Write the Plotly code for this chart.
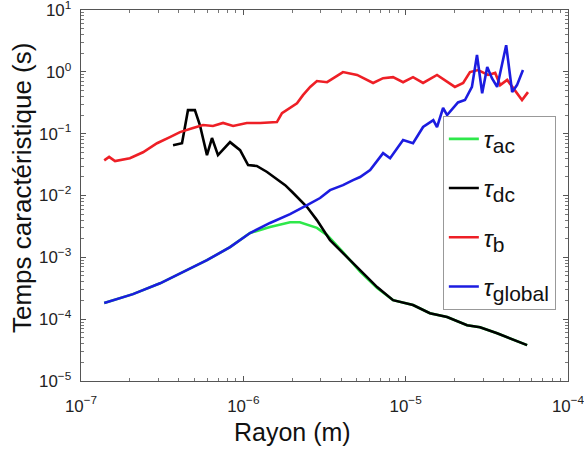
import plotly.graph_objects as go

# tau_b (red)
xb = [1.39e-7, 1.49e-7, 1.62e-7, 2.0e-7, 2.41e-7, 2.94e-7, 3.53e-7, 4.07e-7, 4.9e-7, 5.65e-7,
      6.5e-7, 7.5e-7, 8.65e-7, 1.05e-6, 1.27e-6, 1.61e-6, 1.73e-6, 1.94e-6, 2.14e-6, 2.33e-6,
      2.58e-6, 2.84e-6, 3.28e-6, 4.11e-6, 5.02e-6, 6.3e-6, 7.26e-6, 8.36e-6, 9.64e-6, 1.11e-5,
      1.28e-5, 1.56e-5, 1.80e-5, 2.01e-5, 2.26e-5, 2.49e-5, 2.79e-5, 3.22e-5, 3.56e-5, 3.82e-5,
      4.22e-5, 4.6e-5, 5.21e-5, 5.67e-5]
yb = [0.037, 0.042, 0.036, 0.040, 0.050, 0.070, 0.088, 0.106, 0.123, 0.138,
      0.133, 0.149, 0.133, 0.149, 0.149, 0.154, 0.215, 0.26, 0.31, 0.42,
      0.57, 0.71, 0.68, 0.99, 0.89, 0.66, 0.79, 0.82, 0.68, 0.82,
      0.66, 0.89, 0.68, 0.57, 0.66, 0.99, 1.07, 0.89, 0.96, 0.61,
      0.74, 0.55, 0.35, 0.47]

# tau_dc (black)
xdc = [3.69e-7, 4.19e-7, 4.56e-7, 5.03e-7, 5.4e-7, 5.97e-7, 6.41e-7, 6.98e-7, 8.28e-7, 9.55e-7,
       1.07e-6, 1.21e-6, 1.40e-6, 1.57e-6, 1.81e-6, 2.0e-6, 2.23e-6, 2.47e-6, 2.84e-6, 3.42e-6,
       4.11e-6, 5.24e-6, 6.67e-6, 8.36e-6, 1.11e-5, 1.41e-5, 1.80e-5, 2.39e-5, 2.87e-5, 3.66e-5,
       4.6e-5, 5.6e-5]
ydc = [0.065, 0.070, 0.24, 0.24, 0.138, 0.045, 0.085, 0.045, 0.073, 0.054,
       0.031, 0.030, 0.024, 0.019, 0.0147, 0.0114, 0.0084, 0.0065, 0.0040, 0.0019,
       0.00117, 0.00062, 0.00033, 0.000203, 0.000169, 0.000125, 0.000108, 0.00008, 0.000074, 0.000059,
       0.000047, 0.000038]

# tau_global (blue)
xg = [1.39e-7, 1.67e-7, 2.09e-7, 3.07e-7, 4.5e-7, 5.97e-7, 8.28e-7, 1.10e-6, 1.46e-6, 1.94e-6,
      2.47e-6, 2.97e-6, 3.42e-6, 4.11e-6, 4.74e-6, 5.24e-6, 6.04e-6, 7.26e-6, 8.02e-6, 9.64e-6,
      1.11e-5, 1.28e-5, 1.48e-5, 1.56e-5, 1.70e-5, 1.80e-5, 2.10e-5, 2.32e-5, 2.56e-5, 2.75e-5,
      2.96e-5, 3.18e-5, 3.40e-5, 3.66e-5, 4.16e-5, 4.53e-5, 4.85e-5, 5.28e-5]
yg = [0.000182, 0.000211, 0.000254, 0.00038, 0.00062, 0.00090, 0.00146, 0.00247, 0.0036, 0.0050,
      0.0070, 0.0091, 0.0122, 0.0147, 0.0177, 0.0199, 0.0258, 0.0485, 0.040, 0.079,
      0.070, 0.128, 0.166, 0.128, 0.26, 0.20, 0.32, 0.35, 0.57, 1.87,
      0.45, 1.2, 0.79, 0.57, 2.7, 0.47, 0.61, 1.07]

# tau_ac (green)
xac = [1.39e-7, 1.67e-7, 2.09e-7, 3.07e-7, 4.5e-7, 5.97e-7, 8.28e-7, 1.10e-6, 1.46e-6, 1.94e-6,
       2.23e-6, 2.84e-6, 3.28e-6, 3.78e-6, 4.11e-6, 5.24e-6, 6.67e-6, 8.36e-6, 1.11e-5, 1.41e-5,
       1.80e-5, 2.39e-5, 2.87e-5, 3.66e-5, 4.6e-5, 5.6e-5]
yac = [0.000182, 0.000211, 0.000254, 0.00038, 0.00062, 0.00090, 0.00146, 0.00247, 0.0031, 0.0037,
       0.0037, 0.0030, 0.00229, 0.00157, 0.00121, 0.00059, 0.00032, 0.000203, 0.000169, 0.000125,
       0.000108, 0.00008, 0.000074, 0.000059, 0.000047, 0.000038]

subs = ["ac", "dc", "b", "global"]
colors = ["#2ee84a", "#000000", "#ee1f26", "#1c1ce0"]

# plain-number labels that plotly uses near 10^0, rewritten as powers of ten
label_alias = {"10": "10<sup>1</sup>", "1": "10<sup>0</sup>", "0.1": "10<sup>-1</sup>"}

FONT = "Liberation Sans"

fig = go.Figure()
for i, (x, y, s, c) in enumerate(zip([xac, xdc, xb, xg], [yac, ydc, yb, yg], subs, colors)):
    name = ("<i>τ</i><sub><span style='font-size:21px'>" + s + "</span></sub>")
    fig.add_trace(go.Scatter(x=x, y=y, mode="lines", name=name, legendgroup=str(i),
                             line=dict(color=c, width=2.6)))

axis_common = dict(
    type="log", showgrid=False, zeroline=False, automargin=False,
    showline=True, linecolor="#555555", linewidth=1, mirror="allticks",
    ticks="inside", ticklen=5, tickcolor="#555555",
    tickmode="linear", dtick=1, exponentformat="power", labelalias=label_alias,
    tickfont=dict(size=13.5, color="#222222", family=FONT),
    ticklabeloverflow="allow",
    minor=dict(dtick="D1", ticks="inside", ticklen=3, tickcolor="#777777", showgrid=False),
)

fig.update_xaxes(range=[-7, -4], ticklabelstandoff=10, **axis_common)
fig.update_yaxes(range=[-5, 1], ticklabelstandoff=6, **axis_common)

fig.update_layout(
    width=584, height=452,
    margin=dict(l=81, r=16, t=10, b=71),
    plot_bgcolor="white", paper_bgcolor="white",
    font=dict(family=FONT),
    showlegend=True,
    legend=dict(x=0.743, y=0.715, xanchor="left", yanchor="top",
                bgcolor="white", bordercolor="#999999", borderwidth=1,
                font=dict(size=24, family=FONT, color="#111111"),
                itemwidth=30, tracegroupgap=15),
    annotations=[
        dict(text="Rayon (m)", xref="paper", yref="paper", x=(292 - 81) / 487, y=-(432 - 381) / 371,
             xanchor="center", yanchor="middle", showarrow=False,
             font=dict(size=25, family=FONT, color="#111111")),
        dict(text="Temps caractéristique (s)", xref="paper", yref="paper",
             x=-(81 - 22) / 487, y=(381 - 188) / 371, textangle=-90,
             xanchor="center", yanchor="middle", showarrow=False,
             font=dict(size=26, family=FONT, color="#111111")),
    ],
)

fig.write_html("out.html")
